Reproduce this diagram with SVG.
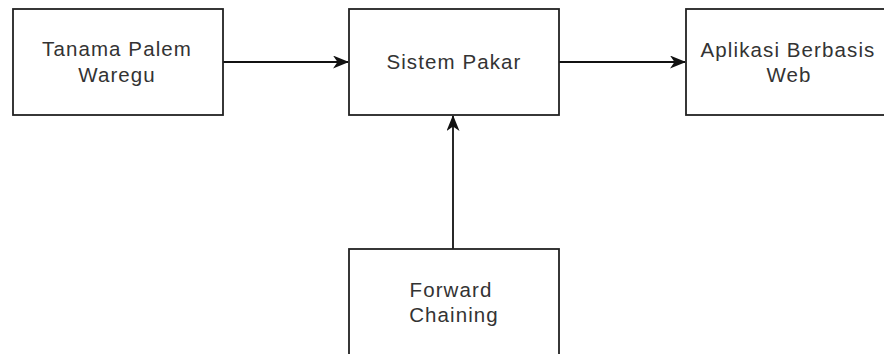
<svg xmlns="http://www.w3.org/2000/svg" width="884" height="354" viewBox="0 0 884 354">
  <defs>
    <marker id="arrow" viewBox="0 0 16 13" refX="15" refY="6.5" markerWidth="16" markerHeight="13" markerUnits="userSpaceOnUse" orient="auto">
      <path d="M0,0 L16,6.5 L0,13 L4.5,6.5 Z" fill="#111"/>
    </marker>
  </defs>
  <style>
    .box { fill: #fff; stroke: #222; stroke-width: 1.8; }
    .label { font-family: "Liberation Sans", Arial, sans-serif; font-size: 20.5px; letter-spacing: 1.1px; fill: #333; text-anchor: middle; }
    .edge { stroke: #111; stroke-width: 1.8; fill: none; marker-end: url(#arrow); }
  </style>
  <rect width="884" height="354" fill="#fff"/>

  <g id="connectors">
    <line class="edge" x1="223" y1="62" x2="348" y2="62"/>
    <line class="edge" x1="559" y1="62" x2="685" y2="62"/>
    <line class="edge" x1="453" y1="249" x2="453" y2="116"/>
  </g>

  <g id="node-tanama">
    <rect class="box" x="13" y="9" width="210" height="106"/>
    <text class="label" x="117" y="56">Tanama Palem</text>
    <text class="label" x="117" y="82">Waregu</text>
  </g>

  <g id="node-sistem">
    <rect class="box" x="349" y="9" width="210" height="106"/>
    <text class="label" x="454" y="69">Sistem Pakar</text>
  </g>

  <g id="node-aplikasi">
    <rect class="box" x="686" y="9" width="210" height="106"/>
    <text class="label" x="788" y="57">Aplikasi Berbasis</text>
    <text class="label" x="789" y="82">Web</text>
  </g>

  <g id="node-forward">
    <rect class="box" x="349" y="249" width="210" height="106"/>
    <text class="label" x="451" y="297">Forward</text>
    <text class="label" x="454" y="322">Chaining</text>
  </g>
</svg>
